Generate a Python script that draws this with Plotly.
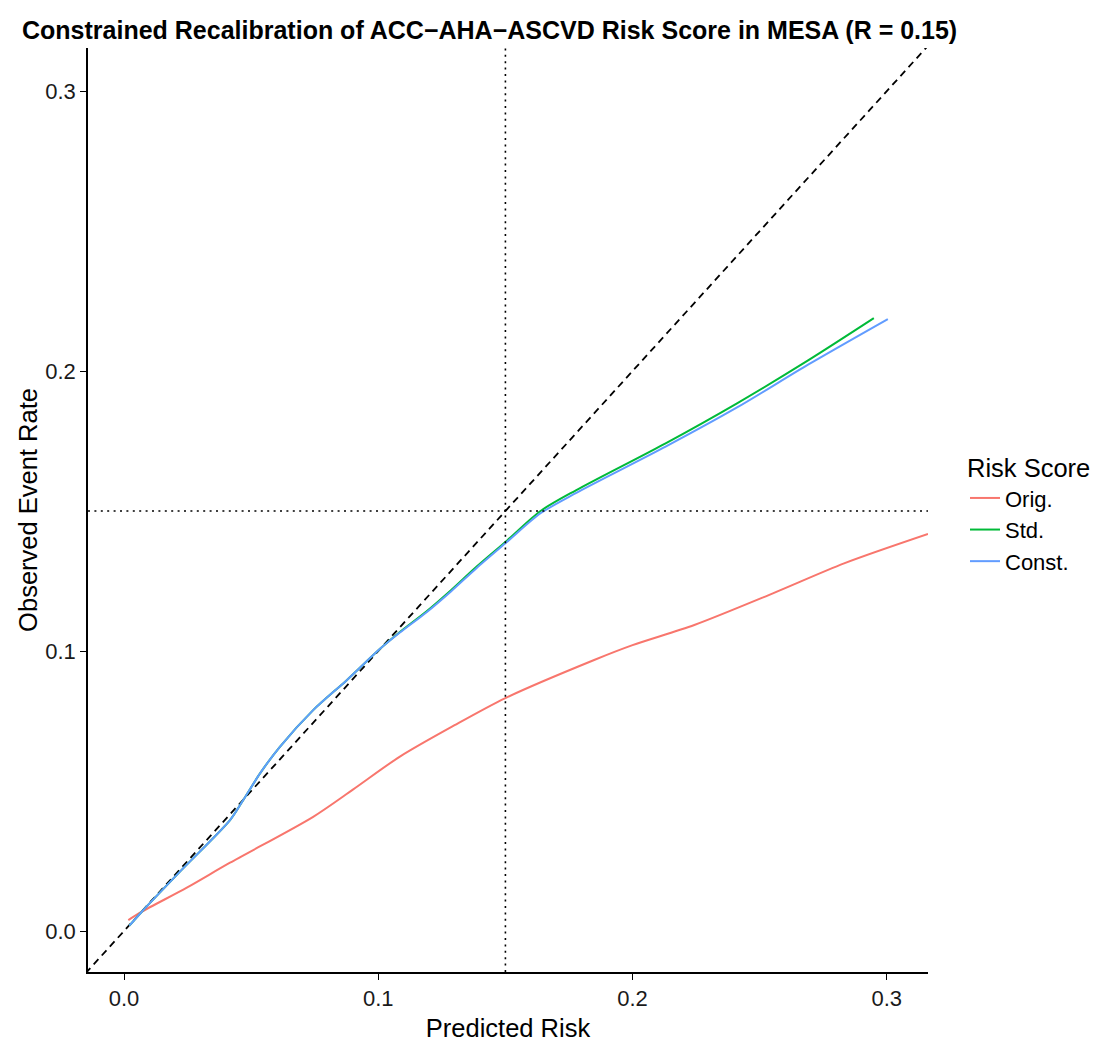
import plotly.graph_objects as go

# Smoothed calibration curves: predicted risk vs observed event rate
orig_x = [0.0017, 0.007, 0.0247, 0.0417, 0.0744, 0.0900, 0.1085, 0.1300, 0.1500,
          0.1849, 0.2000, 0.2243, 0.2552, 0.2832, 0.3162]
orig_y = [0.0039, 0.0069, 0.0155, 0.0244, 0.0408, 0.0505, 0.0623, 0.0735, 0.0832,
          0.0968, 0.1021, 0.1093, 0.1206, 0.1313, 0.1418]

std_x = [0.0021, 0.0070, 0.0220, 0.0417, 0.0469, 0.0535, 0.0613, 0.0744, 0.0876,
         0.1007, 0.1085, 0.1189, 0.1287, 0.1386, 0.1508, 0.1638, 0.1779, 0.2130,
         0.2411, 0.2692, 0.2949]
std_y = [0.0019, 0.0069, 0.0212, 0.0396, 0.0468, 0.0563, 0.0658, 0.0789, 0.0896,
         0.1008, 0.1068, 0.1141, 0.1218, 0.1301, 0.1396, 0.1500, 0.1575, 0.1742,
         0.1885, 0.2039, 0.2189]

const_x = [0.0021, 0.0070, 0.0220, 0.0417, 0.0469, 0.0535, 0.0613, 0.0744, 0.0876,
           0.1007, 0.1085, 0.1189, 0.1287, 0.1386, 0.1508, 0.1638, 0.1779, 0.2130,
           0.2411, 0.2692, 0.3004]
const_y = [0.0019, 0.0069, 0.0212, 0.0396, 0.0468, 0.0563, 0.0658, 0.0789, 0.0896,
           0.1008, 0.1066, 0.1138, 0.1214, 0.1296, 0.1391, 0.1492, 0.1565, 0.1730,
           0.1870, 0.2024, 0.2186]

threshold = 0.15
tick_vals = [0.0, 0.1, 0.2, 0.3]
tick_text = ["0.0", "0.1", "0.2", "0.3"]
x_range = [-0.01416, 0.3162]
y_range = [-0.01464, 0.3154]

series = [
    ("Orig.", orig_x, orig_y, "#F8766D"),
    ("Std.", std_x, std_y, "#00BA38"),
    ("Const.", const_x, const_y, "#619CFF"),
]

FONT = "Liberation Sans, Arial, sans-serif"
W, H = 1094, 1042

fig = go.Figure()

# identity line (perfect calibration)
fig.add_trace(go.Scatter(
    x=[-0.05, 0.35], y=[-0.05, 0.35], mode="lines",
    line=dict(color="black", width=1.8, dash="7px,5px"),
    showlegend=False, hoverinfo="skip",
))

for name, xs, ys, col in series:
    fig.add_trace(go.Scatter(
        x=xs, y=ys, mode="lines", name=name,
        line=dict(color=col, width=2, shape="spline", smoothing=0.8),
    ))

# risk threshold reference lines
fig.add_shape(type="line", xref="x", yref="paper", x0=threshold, x1=threshold,
              y0=0, y1=1, line=dict(color="black", width=1.6, dash="2px,4.4px"))
fig.add_shape(type="line", xref="paper", yref="y", x0=0, x1=1,
              y0=threshold, y1=threshold,
              line=dict(color="black", width=1.6, dash="2px,4.4px"))

axis_common = dict(
    showgrid=False, zeroline=False, showline=True, linecolor="black",
    linewidth=1.6, ticks="outside", ticklen=6, tickwidth=1.4, tickcolor="black",
    tickvals=tick_vals, ticktext=tick_text, automargin=False,
    tickfont=dict(family=FONT, size=22, color="#1a1a1a"),
    title_font=dict(family=FONT, size=25.5, color="black"),
)

fig.update_layout(
    width=W, height=H,
    margin=dict(l=88, r=166, t=48, b=70, autoexpand=False),
    paper_bgcolor="white", plot_bgcolor="white",
    font=dict(family=FONT, color="black"),
    title=dict(
        text="<b>Constrained Recalibration of ACC\u2212AHA\u2212ASCVD Risk Score in MESA (R = 0.15)</b>",
        x=22 / W, xanchor="left", y=1 - 30 / H, yanchor="middle",
        font=dict(size=25, color="black"),
    ),
    xaxis=dict(range=x_range, title=dict(text="Predicted Risk", standoff=12), **axis_common),
    yaxis=dict(range=y_range, title=dict(text="Observed Event Rate", standoff=0), **axis_common),
    legend=dict(
        title=dict(text="Risk Score", font=dict(size=25.5)),
        font=dict(size=22), xref="container", yref="container",
        x=965 / W, xanchor="left", y=1 - 444 / H, yanchor="top",
        bgcolor="rgba(0,0,0,0)", tracegroupgap=0,
    ),
)

fig.write_html("out.html")
